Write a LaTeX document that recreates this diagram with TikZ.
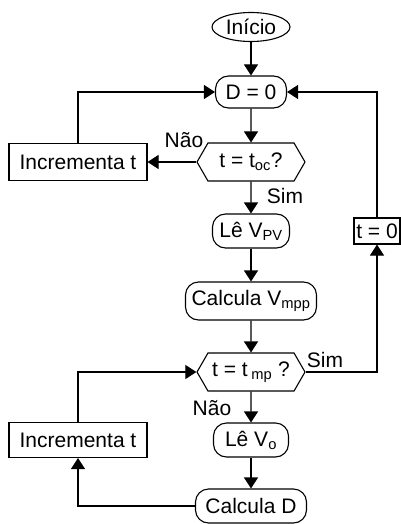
\documentclass[tikz,border=0pt]{standalone}
\usepackage{fontspec}
\setmainfont{Liberation Sans}
\usetikzlibrary{arrows.meta,shapes.geometric,shapes.symbols}

\begin{document}
\begin{tikzpicture}[x=1pt,y=-1pt,
  every node/.style={font=\fontsize{21}{24}\selectfont, inner sep=0pt},
  flow/.style={-{Triangle[length=11pt,width=14pt]}, line width=1.1pt},
  startnode/.style={draw, line width=1.1pt, ellipse, minimum width=78pt, minimum height=29pt},
  roundbox/.style={draw, line width=1.1pt, rounded corners=13pt, minimum height=34pt},
  plainbox/.style={draw, line width=1.1pt, minimum height=37pt},
  testbox/.style={draw, line width=1.1pt, signal, signal to=east and west,
    signal pointer angle=120, minimum height=38pt, minimum width=108pt}]
  \useasboundingbox (0,0) rectangle (400,524);

  \node[startnode] (inicio) at (251,27) {Início};
  \node[roundbox, minimum width=71pt, minimum height=32pt] (dzero) at (251,92) {D = 0};
  \node[testbox] (toc) at (251,162) {t = t\textsubscript{oc}?};
  \node[plainbox, minimum width=138pt] (incA) at (78,162) {Incrementa t};
  \node[roundbox, minimum width=77pt] (lepv) at (251,231) {Lê V\textsubscript{PV}};
  \node[roundbox, minimum width=131pt, minimum height=38pt] (calcv) at (251,301) {Calcula V\textsubscript{mpp}};
  \node[testbox] (tmp) at (251,372) {t = t\,\textsubscript{mp} ?};
  \node[draw, line width=1.1pt, minimum width=46pt, minimum height=26pt] (tzero) at (377,231) {t = 0};
  \node[roundbox, minimum width=75pt] (levo) at (251,440) {Lê V\textsubscript{o}};
  \node[roundbox, minimum width=111pt] (calcd) at (251,506) {Calcula D};
  \node[plainbox, minimum width=138pt, minimum height=35pt] (incB) at (78,440) {Incrementa t};

  \node (naoA) at (184,140) {Não};
  \node (simA) at (285,196) {Sim};
  \node (simB) at (325,360) {Sim};
  \node (naoB) at (212,408) {Não};

  \draw[flow] (inicio) -- (dzero);
  \draw[flow] (dzero) -- (toc);
  \draw[flow] (toc.west) -- (incA.east);
  \draw[flow] (incA.north) |- (dzero.west);
  \draw[flow] (toc) -- (lepv);
  \draw[flow] (lepv) -- (calcv);
  \draw[flow] (calcv) -- (tmp);
  \draw[flow] (tmp.east) -| (tzero.south);
  \draw[flow] (tzero.north) |- (dzero.east);
  \draw[flow] (tmp) -- (levo);
  \draw[flow] (levo) -- (calcd);
  \draw[flow] (calcd.west) -| (incB.south);
  \draw[flow] (incB.north) |- (tmp.west);
\end{tikzpicture}
\end{document}
